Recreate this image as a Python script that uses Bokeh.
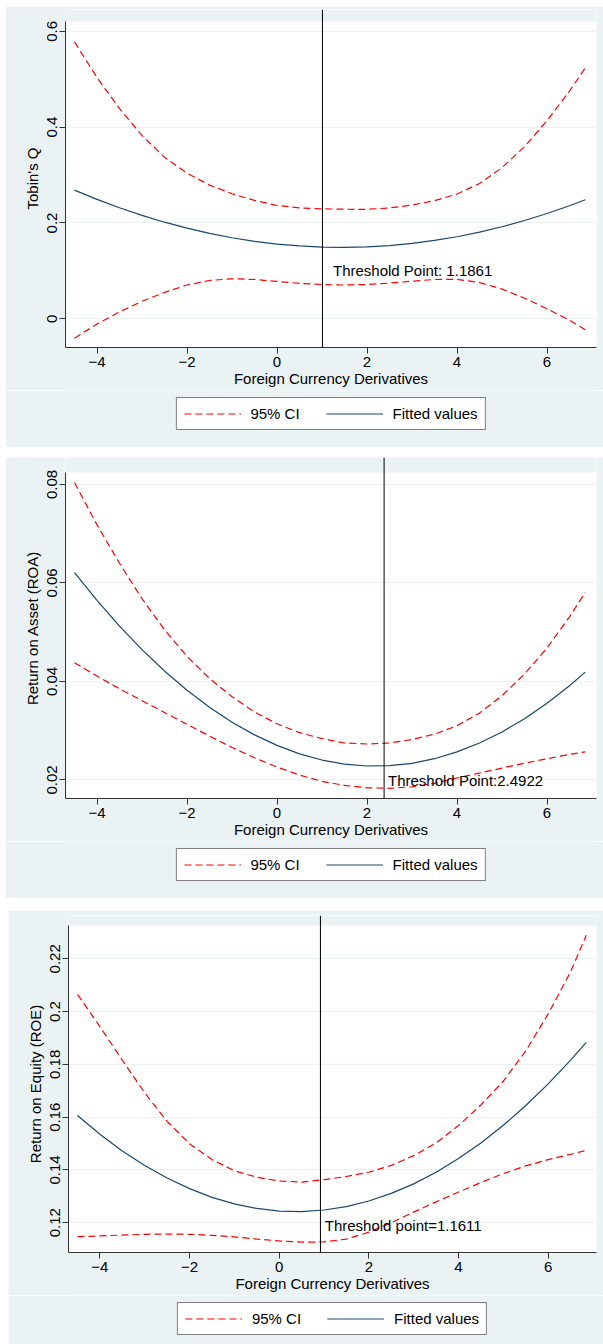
from bokeh.plotting import figure
from bokeh.models import (Range1d, Span, BoxAnnotation, Label, Legend, LegendItem, FixedTicker)
from bokeh.layouts import column
from bokeh.embed import file_html
from bokeh.resources import INLINE

# ---------------- data ----------------
x_vals = [-4.5, -4, -3.5, -3, -2.5, -2, -1.5, -1, -0.5, 0, 0.5, 1, 1.5, 2,
          2.5, 3, 3.5, 4, 4.5, 5, 5.5, 6, 6.5, 6.85]

# Panel 1: Tobin's Q
tq_fit = [0.2686, 0.2493, 0.2317, 0.2158, 0.2016, 0.1891, 0.1783, 0.1691, 0.1617, 0.1560,
          0.1520, 0.1496, 0.1490, 0.1501, 0.1528, 0.1573, 0.1635, 0.1713, 0.1809, 0.1921,
          0.2051, 0.2197, 0.2360, 0.2485]
tq_hi = [0.5776, 0.5036, 0.4386, 0.3826, 0.3370, 0.3040, 0.2790, 0.2610, 0.2470, 0.2365,
         0.2315, 0.2295, 0.2287, 0.2284, 0.2314, 0.2374, 0.2464, 0.2604, 0.2824, 0.3154,
         0.3594, 0.4134, 0.4754, 0.5234]
tq_lo = [-0.0405, -0.011, 0.0145, 0.0365, 0.055, 0.0705, 0.080, 0.0835, 0.082, 0.078,
         0.074, 0.0715, 0.0705, 0.0715, 0.0745, 0.0785, 0.082, 0.0825, 0.0755, 0.062,
         0.043, 0.021, -0.003, -0.023]

# Panel 2: Return on Asset (ROA)
roa_fit = [0.06212, 0.05646, 0.05124, 0.04646, 0.04212, 0.03822, 0.03476, 0.03173, 0.02915,
           0.02701, 0.02530, 0.02404, 0.02322, 0.02283, 0.02289, 0.02338, 0.02431, 0.02569,
           0.02750, 0.02975, 0.03244, 0.03557, 0.03914, 0.04190]
roa_hi = [0.0804, 0.0718, 0.0640, 0.0568, 0.0505, 0.0451, 0.0406, 0.0369, 0.0338, 0.0314,
          0.0296, 0.0284, 0.0275, 0.0273, 0.0275, 0.0282, 0.0293, 0.0310, 0.0336, 0.0371,
          0.0415, 0.0468, 0.0531, 0.0581]
roa_lo = [0.0438, 0.0411, 0.0385, 0.0361, 0.0337, 0.0313, 0.0289, 0.0266, 0.0245, 0.0226,
          0.0210, 0.0197, 0.0189, 0.0184, 0.0183, 0.0186, 0.0193, 0.0204, 0.0214, 0.0224,
          0.0234, 0.0243, 0.0252, 0.0257]

# Panel 3: Return on Equity (ROE)
roe_fit = [0.1606, 0.1535, 0.1472, 0.1417, 0.1369, 0.1329, 0.1296, 0.1271, 0.1254, 0.1244,
           0.1242, 0.1248, 0.1261, 0.1282, 0.1311, 0.1347, 0.1391, 0.1443, 0.1502, 0.1569,
           0.1644, 0.1726, 0.1816, 0.1883]
roe_hi = [0.2065, 0.1943, 0.1816, 0.1692, 0.1584, 0.1499, 0.1439, 0.1397, 0.1372, 0.1358,
          0.1354, 0.1363, 0.1375, 0.1391, 0.1417, 0.1454, 0.1502, 0.1568, 0.1646, 0.1736,
          0.1851, 0.1991, 0.2151, 0.2289]
roe_lo = [0.1147, 0.1150, 0.1153, 0.1156, 0.1157, 0.1156, 0.1152, 0.1146, 0.1138, 0.1131,
          0.1126, 0.1127, 0.1138, 0.1164, 0.1200, 0.1240, 0.1279, 0.1316, 0.1352, 0.1386,
          0.1415, 0.1439, 0.1459, 0.1474]

x_ticks = [-4, -2, 0, 2, 4, 6]
x_tick_labels = ["\u22124", "\u22122", "0", "2", "4", "6"]
tq_ticks = [0, 0.2, 0.4, 0.6]
tq_tick_labels = ["0", "0.2", "0.4", "0.6"]
roa_ticks = [0.02, 0.04, 0.06, 0.08]
roa_tick_labels = ["0.02", "0.04", "0.06", "0.08"]
roe_ticks = [0.12, 0.14, 0.16, 0.18, 0.2, 0.22]
roe_tick_labels = ["0.12", "0.14", "0.16", "0.18", "0.2", "0.22"]

thresholds = [1.01, 2.38, 0.92]
notes = ["Threshold Point: 1.1861", "Threshold Point:2.4922", "Threshold point=1.1611"]
y_labels = ["Tobin's Q", "Return on Asset (ROA)", "Return on Equity (ROE)"]
x_label = "Foreign Currency Derivatives"
legend_labels = ["95% CI", "Fitted values"]

# ---------------- style ----------------
BG = "#eaf2f3"
NAVY = "#1a476f"
RED = "#ff0000"
AX = "#333333"
FONT = "Liberation Sans"
FS = "15px"
DASH = "7 4"


def panel(fit, hi, lo, ticks, tick_labels, ylabel, thr, note, note_xy,
          y_start, y_end, white_top, width, height, mb_left, mb_right, mb_top,
          leg_height, top_gap, left_gap):
    frame_w = width - mb_left - mb_right
    p = figure(width=width, height=height,
               x_range=Range1d(-4.70, -4.70 + frame_w / 45.0),
               y_range=Range1d(y_start, y_end),
               output_backend="svg", toolbar_location=None,
               min_border_left=mb_left, min_border_right=mb_right,
               min_border_top=mb_top, min_border_bottom=43,
               background_fill_color="white", border_fill_color=BG,
               outline_line_color=None)
    p.margin = (top_gap, 0, 0, left_gap)
    p.xgrid.visible = False
    p.ygrid.ticker = FixedTicker(ticks=ticks)
    p.ygrid.grid_line_color = BG
    p.ygrid.grid_line_width = 1

    # strip of the plot region above the inner (white) region
    p.add_layout(BoxAnnotation(bottom=white_top, fill_color=BG, fill_alpha=1,
                               line_color=None, level="underlay"))

    p.line(x_vals, hi, line_color=RED, line_dash=DASH, line_width=1.2)
    p.line(x_vals, lo, line_color=RED, line_dash=DASH, line_width=1.2)
    p.line(x_vals, fit, line_color=NAVY, line_width=1.2)

    p.add_layout(Span(location=thr, dimension="height", line_color="black", line_width=1))
    p.add_layout(Label(x=note_xy[0], y=note_xy[1], text=note, text_font=FONT,
                       text_font_size=FS, text_color="black", text_baseline="alphabetic"))

    ax = p.xaxis[0]
    ax.ticker = FixedTicker(ticks=x_ticks)
    ax.major_label_overrides = dict(zip(x_ticks, x_tick_labels))
    ax.axis_label = x_label
    ay = p.yaxis[0]
    ay.ticker = FixedTicker(ticks=ticks)
    ay.major_label_overrides = dict(zip(ticks, tick_labels))
    ay.axis_label = ylabel
    ay.bounds = (y_start, white_top)
    ay.major_label_orientation = "vertical"
    for a in (ax, ay):
        a.axis_line_color = AX
        a.axis_line_width = 1
        a.major_tick_line_color = AX
        a.major_tick_out = 6
        a.major_tick_in = 0
        a.minor_tick_out = 0
        a.minor_tick_in = 0
        a.major_label_text_font = FONT
        a.major_label_text_font_size = FS
        a.major_label_text_color = "black"
        a.axis_label_text_font = FONT
        a.axis_label_text_font_size = FS
        a.axis_label_text_font_style = "normal"
        a.axis_label_text_color = "black"
    ax.axis_label_standoff = 0
    ay.axis_label_standoff = 4
    ax.major_label_standoff = 3
    ay.major_label_standoff = 2

    # legend strip below the plot (own figure, same background);
    # its lines use the real series but lie outside this figure's view
    lf = figure(width=width, height=leg_height, x_range=Range1d(100, 101),
                y_range=Range1d(100, 101),
                output_backend="svg", toolbar_location=None,
                x_axis_location=None, y_axis_location=None,
                min_border_left=mb_left, min_border_right=mb_right,
                min_border_top=0, min_border_bottom=0,
                background_fill_color=BG, border_fill_color=BG, outline_line_color=None)
    lf.margin = (0, 0, 0, left_gap)
    lf.xgrid.visible = False
    lf.ygrid.visible = False
    g_ci = lf.line(x_vals, hi, line_color=RED, line_dash=DASH, line_width=1.2)
    g_fit = lf.line(x_vals, fit, line_color=NAVY, line_width=1.2)
    legend = Legend(items=[LegendItem(label=legend_labels[0], renderers=[g_ci]),
                           LegendItem(label=legend_labels[1], renderers=[g_fit])],
                    orientation="horizontal", location="top_center",
                    glyph_width=57, glyph_height=15, label_height=15,
                    label_standoff=10, spacing=26, padding=7, margin=7,
                    border_line_color="black", border_line_width=1,
                    background_fill_color="white", background_fill_alpha=1,
                    label_text_font=FONT, label_text_font_size=FS,
                    label_text_color="black")
    lf.add_layout(legend)
    return [p, lf]


parts = []
parts += panel(tq_fit, tq_hi, tq_lo, tq_ticks, tq_tick_labels, y_labels[0], thresholds[0],
               notes[0], (1.244, 0.1008), -0.0599, 0.6455, 0.6204,
               width=598, height=384, mb_left=60, mb_right=7, mb_top=3,
               leg_height=57, top_gap=6, left_gap=5)
parts += panel(roa_fit, roa_hi, roa_lo, roa_ticks, roa_tick_labels, y_labels[1], thresholds[1],
               notes[1], (2.467, 0.0199), 0.01623, 0.08548, 0.08243,
               width=598, height=384, mb_left=60, mb_right=7, mb_top=0,
               leg_height=57, top_gap=10, left_gap=5)
parts += panel(roe_fit, roe_hi, roe_lo, roe_ticks, roe_tick_labels, y_labels[2], thresholds[2],
               notes[2], (1.016, 0.1191), 0.1087, 0.2364, 0.2326,
               width=595, height=385, mb_left=60, mb_right=5, mb_top=5,
               leg_height=49, top_gap=12, left_gap=8)

layout = column(*parts, spacing=0)
open("out.html", "w").write(file_html(layout, INLINE))
